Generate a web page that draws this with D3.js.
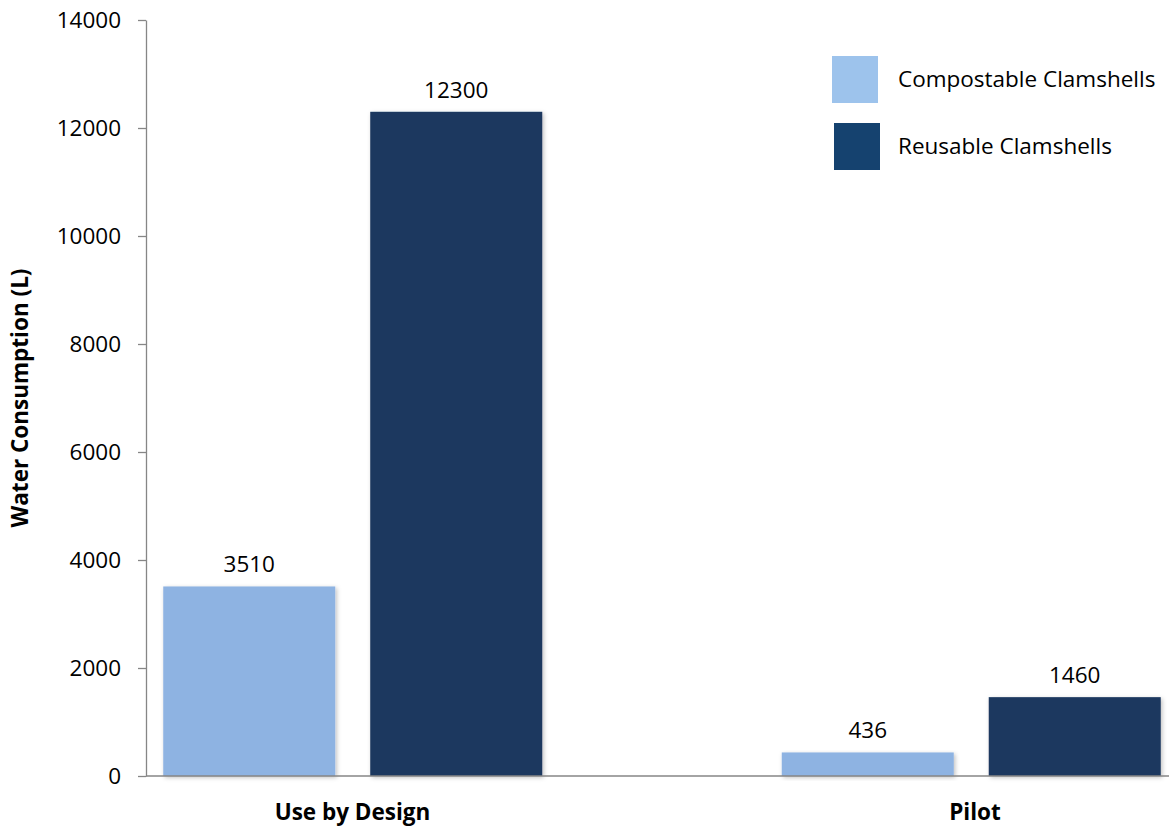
<!DOCTYPE html>
<html><head><meta charset="utf-8">
<script src="https://cdn.jsdelivr.net/npm/d3@7"></script>
<style>body{margin:0;background:#fff}svg{display:block}text{font-family:"Open Sans",sans-serif;fill:#000}</style>
</head><body><svg id="c" width="1169" height="826"></svg>
<script>
const categories = ["Use by Design", "Pilot"];
const seriesNames = ["Compostable Clamshells", "Reusable Clamshells"];
const compostable = [3510, 436];
const reusable = [12300, 1460];
const yTicks = [0, 2000, 4000, 6000, 8000, 10000, 12000, 14000];
const barColors = ["#8EB3E2", "#1A375E"];
const legendColors = ["#9DC3EC", "#15426F"];
const FS = 22.5;

const svg = d3.select("#c");
const defs = svg.append("defs");
const f = defs.append("filter").attr("id","sh").attr("x","-10%").attr("y","-10%").attr("width","130%").attr("height","130%");
f.append("feDropShadow").attr("dx",1.5).attr("dy",1.5).attr("stdDeviation",2).attr("flood-color","#000").attr("flood-opacity",0.25);

const y = d3.scaleLinear().domain([0,14000]).range([776,20]);
const x0 = d3.scaleBand().domain(categories).range([43.25,1280.25]).padding(0);
const x1 = d3.scaleBand().domain(seriesNames).range([120,499]).paddingInner(0.169).paddingOuter(0);

const data = categories.map((c,i)=>({cat:c, vals:[compostable[i], reusable[i]]}));

// axes
const yAxis = d3.axisLeft(y).tickValues(yTicks).tickSize(8).tickSizeOuter(0).tickFormat(d3.format("d"));
const gy = svg.append("g").attr("transform","translate(146,0)").call(yAxis);
gy.select(".domain").attr("stroke","#868686").attr("stroke-width",1.3);
gy.selectAll(".tick line").attr("stroke","#868686").attr("stroke-width",1.3);
gy.selectAll(".tick text").attr("x",-25).attr("font-size",FS).style("font-family","'Open Sans',sans-serif").attr("fill","#000");

// bars
const groups = svg.append("g").selectAll("g").data(data).join("g")
  .attr("transform",d=>`translate(${x0(d.cat)},0)`);
groups.selectAll("rect").data(d=>d.vals.map((v,j)=>({v,s:seriesNames[j],j}))).join("rect")
  .attr("x",d=>x1(d.s)).attr("width",x1.bandwidth())
  .attr("y",d=>y(d.v)).attr("height",d=>y(0)-y(d.v))
  .attr("fill",d=>barColors[d.j]).attr("filter","url(#sh)");
groups.selectAll("text.v").data(d=>d.vals.map((v,j)=>({v,s:seriesNames[j]}))).join("text")
  .attr("class","v").attr("x",d=>x1(d.s)+x1.bandwidth()/2).attr("y",d=>y(d.v)-14)
  .attr("text-anchor","middle").attr("font-size",FS).text(d=>d.v);

// x axis line
svg.append("line").attr("x1",146).attr("x2",1169).attr("y1",776).attr("y2",776).attr("stroke","#868686").attr("stroke-width",1.3);

// category labels
svg.selectAll("text.cat").data(categories).join("text").attr("class","cat")
  .attr("x",(d,i)=>x0(d)+x0.bandwidth()/2 + (i===0?0:4)).attr("y",820)
  .attr("text-anchor","middle").attr("font-size",FS).attr("font-weight","bold").text(d=>d);

// y title
svg.append("text").attr("transform","translate(28,398) rotate(-90)").attr("text-anchor","middle")
  .attr("font-size",FS).attr("font-weight","bold").text("Water Consumption (L)");

// legend
const lg = svg.append("g");
const ly = [56, 123];
const lx = [832, 834];
seriesNames.forEach((s,i)=>{
  lg.append("rect").attr("x",lx[i]).attr("y",ly[i]).attr("width",46).attr("height",47).attr("fill",legendColors[i]);
  lg.append("text").attr("x",898).attr("y",ly[i]+23.5).attr("dy","0.35em").attr("font-size",FS).text(s);
});
</script></body></html>
